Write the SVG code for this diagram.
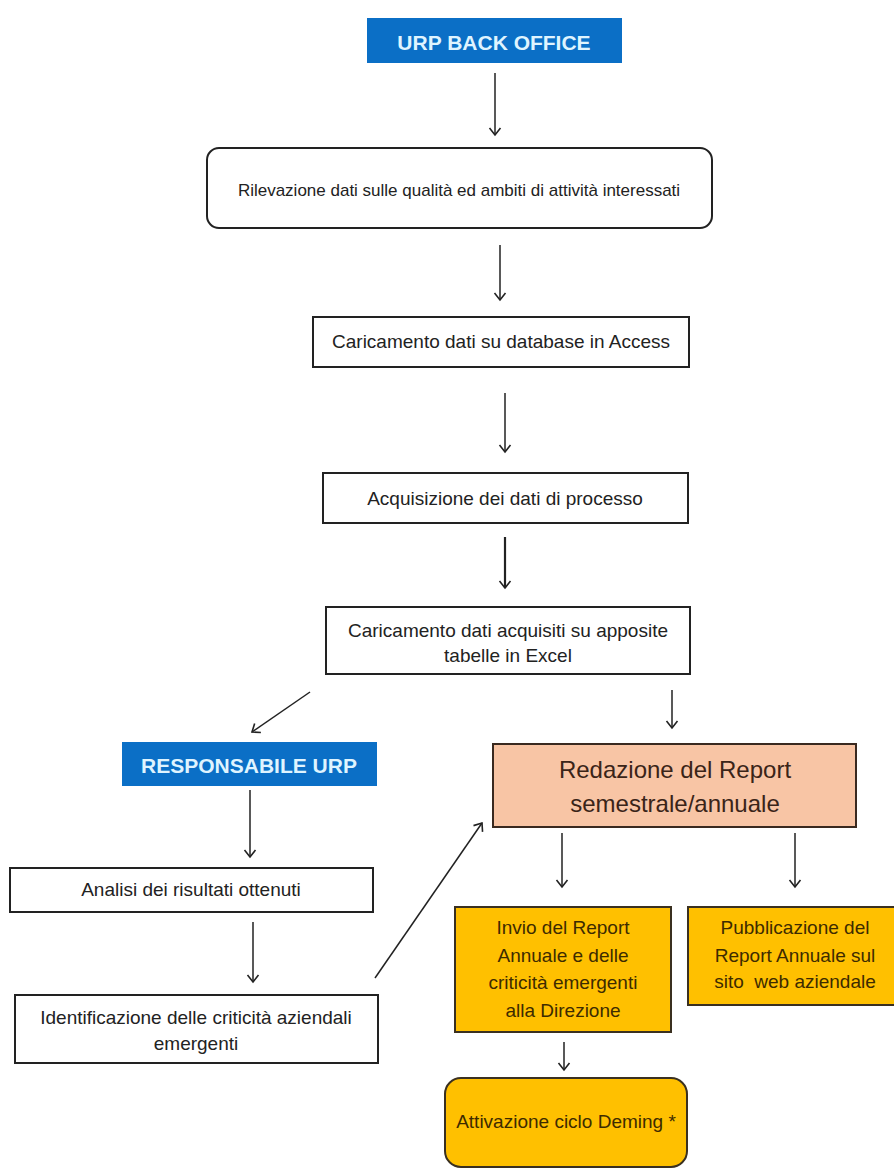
<svg xmlns="http://www.w3.org/2000/svg" width="894" height="1172" viewBox="0 0 894 1172">
<style>
.box{fill:#fff;stroke:#222;stroke-width:2}
.hdr{fill:#0b6fc6}
.hdrt{font-family:"Liberation Sans",Arial,sans-serif;font-weight:bold;font-size:21px;fill:#dff4ff;text-anchor:middle}
.t{font-family:"Liberation Sans",Arial,sans-serif;font-size:19px;fill:#222;text-anchor:middle}
.peach{fill:#f8c5a5;stroke:#3a2a20;stroke-width:2}
.gold{fill:#ffc000;stroke:#3a3020;stroke-width:2}
.tr{font-family:"Liberation Sans",Arial,sans-serif;font-size:24px;fill:#3a2418;text-anchor:middle}
.tg{font-family:"Liberation Sans",Arial,sans-serif;font-size:19px;fill:#3d2b00;text-anchor:middle}
.c{stroke:#222;stroke-width:1.5;fill:none;marker-end:url(#ah)}
</style>
<defs>
<marker id="ah" markerUnits="userSpaceOnUse" markerWidth="14" markerHeight="14" refX="12" refY="7" orient="auto">
<path d="M5,1.5 L12,7 L5,12.5" fill="none" stroke="#222" stroke-width="1.6"/>
</marker>
</defs>
<rect width="894" height="1172" fill="#fff"/>
<g id="n-backoffice">
<rect class="hdr" x="367" y="18" width="255" height="45"/>
<text class="hdrt" x="494" y="50">URP BACK OFFICE</text>
</g>
<g id="n-rilevazione">
<rect class="box" x="207" y="148" width="505" height="80" rx="12"/>
<text class="t" x="459" y="196" style="font-size:17px">Rilevazione dati sulle qualità ed ambiti di attività interessati</text>
</g>
<g id="n-caricamento">
<rect class="box" x="313" y="317" width="376" height="50"/>
<text class="t" x="501" y="348">Caricamento dati su database in Access</text>
</g>
<g id="n-acquisizione">
<rect class="box" x="323" y="473" width="365" height="50"/>
<text class="t" x="505" y="505">Acquisizione dei dati di processo</text>
</g>
<g id="n-excel">
<rect class="box" x="326" y="607" width="364" height="67"/>
<text class="t" x="508" y="637">Caricamento dati acquisiti su apposite</text>
<text class="t" x="508" y="662">tabelle in Excel</text>
</g>
<g id="n-responsabile">
<rect class="hdr" x="122" y="742" width="255" height="44"/>
<text class="hdrt" x="249" y="773">RESPONSABILE URP</text>
</g>
<g id="n-analisi">
<rect class="box" x="10" y="868" width="363" height="44"/>
<text class="t" x="191" y="896">Analisi dei risultati ottenuti</text>
</g>
<g id="n-identificazione">
<rect class="box" x="15" y="995" width="363" height="68"/>
<text class="t" x="196" y="1024">Identificazione delle criticità aziendali</text>
<text class="t" x="196" y="1050">emergenti</text>
</g>
<g id="n-redazione">
<rect class="peach" x="493" y="744" width="363" height="83"/>
<text class="tr" x="675" y="778">Redazione del Report</text>
<text class="tr" x="675" y="812">semestrale/annuale</text>
</g>
<g id="n-invio">
<rect class="gold" x="455" y="907" width="216" height="125"/>
<text class="tg" x="563" y="934">Invio del Report</text>
<text class="tg" x="563" y="962">Annuale e delle</text>
<text class="tg" x="563" y="989">criticità emergenti</text>
<text class="tg" x="563" y="1017">alla Direzione</text>
</g>
<g id="n-pubblicazione">
<rect class="gold" x="688" y="907" width="210" height="98"/>
<text class="tg" x="795" y="934">Pubblicazione del</text>
<text class="tg" x="795" y="962">Report Annuale sul</text>
<text class="tg" x="795" y="988" xml:space="preserve" style="white-space:pre">sito  web aziendale</text>
</g>
<g id="n-deming">
<rect class="gold" x="445" y="1078" width="242" height="89" rx="16"/>
<text class="tg" x="566" y="1128">Attivazione ciclo Deming *</text>
</g>
<g id="connectors">
<line class="c" x1="495" y1="73" x2="495" y2="135"/>
<line class="c" x1="500" y1="245" x2="500" y2="300"/>
<line class="c" x1="505" y1="393" x2="505" y2="452"/>
<line class="c" x1="505" y1="537" x2="505" y2="588" style="stroke-width:2.2"/>
<line class="c" x1="310" y1="692" x2="252" y2="732"/>
<line class="c" x1="672" y1="690" x2="672" y2="728"/>
<line class="c" x1="250" y1="790" x2="250" y2="857"/>
<line class="c" x1="253" y1="922" x2="253" y2="982"/>
<line class="c" x1="375" y1="978" x2="482" y2="823"/>
<line class="c" x1="562" y1="833" x2="562" y2="887"/>
<line class="c" x1="795" y1="833" x2="795" y2="887"/>
<line class="c" x1="564" y1="1042" x2="564" y2="1070"/>
</g>
</svg>
